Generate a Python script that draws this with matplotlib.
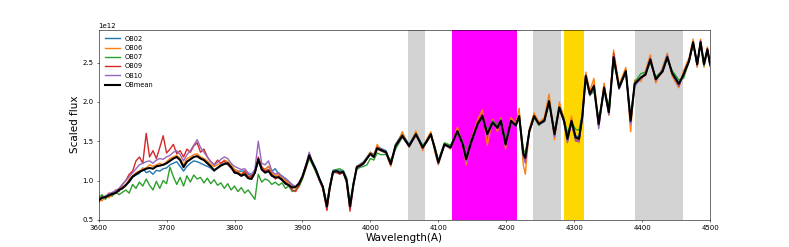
import numpy as np
import matplotlib.pyplot as plt

# wavelength grid: 5 A steps in the blue, read-off points further red
wave_blue = list(range(3600, 3900, 5))
wave_red = [3900, 3905, 3910, 3915, 3920, 3925, 3930, 3936, 3940, 3945,
            3950, 3955, 3960, 3965, 3970, 3975, 3980, 3985, 3990, 3995,
            4000, 4005, 4010, 4015, 4023, 4030, 4037, 4047, 4057, 4067,
            4077, 4083, 4089, 4095, 4100, 4109, 4118, 4128, 4136, 4141,
            4148, 4158, 4165, 4172, 4180, 4187, 4192, 4199, 4207, 4214,
            4219, 4225, 4228, 4234, 4241, 4248, 4256, 4263, 4271, 4278,
            4285, 4290, 4296, 4302, 4307, 4312, 4317, 4323, 4329, 4336,
            4344, 4351, 4358, 4366, 4376, 4383, 4389, 4398, 4405, 4412,
            4420, 4430, 4437, 4444, 4454, 4461, 4469, 4475, 4481, 4486,
            4491, 4496, 4500]

ob02 = [0.74, 0.78, 0.80, 0.81, 0.84, 0.85, 0.88, 0.91, 0.95, 0.98,
        1.04, 1.07, 1.09, 1.16, 1.10, 1.12, 1.08, 1.13, 1.12, 1.15,
        1.16, 1.20, 1.22, 1.24, 1.18, 1.12, 1.18, 1.22, 1.25, 1.24,
        1.22, 1.20, 1.18, 1.16, 1.12, 1.16, 1.20, 1.22, 1.22, 1.16,
        1.14, 1.12, 1.12, 1.12, 1.08, 1.06, 1.10, 1.24, 1.16, 1.14,
        1.18, 1.12, 1.15, 1.08, 1.06, 1.02, 0.98, 0.94, 0.92, 0.97,
        1.06, 1.20, 1.30, 1.24, 1.15, 1.03, 0.93, 0.69, 0.92, 1.13,
        1.14, 1.12, 1.13, 1.02, 0.70, 0.97, 1.18, 1.21, 1.24, 1.30,
        1.36, 1.33, 1.44, 1.41, 1.38, 1.22, 1.46, 1.60, 1.46, 1.61,
        1.44, 1.52, 1.60, 1.42, 1.25, 1.47, 1.43, 1.65, 1.48, 1.30,
        1.50, 1.73, 1.83, 1.60, 1.75, 1.68, 1.78, 1.48, 1.77, 1.71,
        1.83, 1.36, 1.31, 1.64, 1.84, 1.73, 1.78, 2.02, 1.60, 1.94,
        1.77, 1.55, 1.77, 1.57, 1.55, 1.83, 2.33, 2.11, 2.19, 1.74,
        2.15, 1.84, 2.55, 2.19, 2.38, 1.80, 2.22, 2.30, 2.36, 2.52,
        2.30, 2.38, 2.55, 2.38, 2.24, 2.34, 2.51, 2.74, 2.47, 2.73,
        2.49, 2.65, 2.47]

ob06 = [0.76, 0.74, 0.80, 0.78, 0.82, 0.84, 0.90, 0.92, 0.94, 1.02,
        1.06, 1.10, 1.12, 1.15, 1.16, 1.20, 1.18, 1.20, 1.22, 1.20,
        1.24, 1.28, 1.30, 1.32, 1.28, 1.20, 1.28, 1.30, 1.33, 1.34,
        1.30, 1.28, 1.25, 1.20, 1.18, 1.20, 1.22, 1.26, 1.24, 1.20,
        1.14, 1.12, 1.08, 1.12, 1.06, 1.04, 1.10, 1.28, 1.16, 1.14,
        1.18, 1.10, 1.06, 1.08, 1.03, 1.00, 0.96, 0.92, 0.90, 0.95,
        1.03, 1.20, 1.34, 1.20, 1.12, 1.00, 0.90, 0.63, 0.88, 1.12,
        1.13, 1.09, 1.12, 0.98, 0.64, 0.96, 1.18, 1.20, 1.23, 1.29,
        1.36, 1.31, 1.46, 1.38, 1.35, 1.18, 1.42, 1.62, 1.42, 1.63,
        1.38, 1.53, 1.62, 1.36, 1.20, 1.47, 1.40, 1.68, 1.44, 1.20,
        1.50, 1.78, 1.90, 1.45, 1.78, 1.62, 1.80, 1.40, 1.80, 1.72,
        1.92, 1.20, 1.08, 1.66, 1.86, 1.74, 1.80, 2.10, 1.52, 2.00,
        1.80, 1.50, 1.82, 1.52, 1.48, 1.88, 2.38, 2.14, 2.30, 1.68,
        2.24, 1.83, 2.66, 2.22, 2.44, 1.62, 2.28, 2.26, 2.40, 2.60,
        2.24, 2.44, 2.62, 2.33, 2.18, 2.40, 2.56, 2.80, 2.44, 2.80,
        2.44, 2.70, 2.45]

ob07 = [0.78, 0.82, 0.76, 0.83, 0.80, 0.86, 0.82, 0.85, 0.88, 0.84,
        0.95, 0.90, 0.98, 0.93, 1.02, 0.94, 0.88, 0.99, 0.90, 1.00,
        0.96, 1.17, 1.05, 0.95, 1.04, 0.93, 1.06, 0.98, 1.07, 1.02,
        1.04, 0.97, 1.03, 0.96, 1.01, 0.94, 0.97, 0.90, 0.96, 0.88,
        0.93, 0.86, 0.91, 0.84, 0.88, 0.82, 0.76, 1.08, 0.98, 1.02,
        1.00, 0.95, 0.98, 0.94, 0.97, 0.90, 0.93, 0.86, 0.88, 0.92,
        1.02, 1.15, 1.28, 1.20, 1.10, 1.00, 0.93, 0.70, 0.92, 1.12,
        1.14, 1.15, 1.12, 1.04, 0.70, 0.96, 1.14, 1.17, 1.18, 1.20,
        1.28, 1.26, 1.35, 1.33, 1.33, 1.26, 1.40, 1.55, 1.45, 1.57,
        1.45, 1.49, 1.57, 1.43, 1.25, 1.48, 1.45, 1.62, 1.50, 1.30,
        1.52, 1.72, 1.80, 1.62, 1.76, 1.70, 1.78, 1.50, 1.74, 1.72,
        1.80, 1.40, 1.34, 1.62, 1.80, 1.70, 1.76, 1.98, 1.62, 1.94,
        1.78, 1.60, 1.75, 1.65, 1.64, 1.84, 2.30, 2.08, 2.14, 1.78,
        2.16, 1.95, 2.52, 2.20, 2.40, 1.80, 2.25, 2.36, 2.38, 2.50,
        2.32, 2.40, 2.56, 2.40, 2.28, 2.30, 2.52, 2.74, 2.50, 2.74,
        2.46, 2.64, 2.50]

ob09 = [0.72, 0.80, 0.78, 0.84, 0.82, 0.88, 0.86, 0.95, 1.00, 1.08,
        1.12, 1.25, 1.30, 1.22, 1.60, 1.30, 1.38, 1.28, 1.42, 1.57,
        1.35, 1.40, 1.46, 1.34, 1.38, 1.30, 1.40, 1.36, 1.44, 1.48,
        1.36, 1.40, 1.30, 1.24, 1.20, 1.26, 1.22, 1.25, 1.20, 1.16,
        1.12, 1.10, 1.06, 1.12, 1.04, 1.06, 1.10, 1.30, 1.18, 1.12,
        1.14, 1.08, 1.02, 1.06, 1.00, 0.98, 0.94, 0.88, 0.86, 0.94,
        1.04, 1.16, 1.34, 1.22, 1.12, 1.00, 0.90, 0.62, 0.88, 1.10,
        1.10, 1.08, 1.10, 0.98, 0.61, 0.93, 1.18, 1.19, 1.22, 1.28,
        1.34, 1.30, 1.42, 1.40, 1.36, 1.20, 1.45, 1.56, 1.43, 1.58,
        1.41, 1.50, 1.58, 1.40, 1.22, 1.45, 1.42, 1.62, 1.45, 1.26,
        1.49, 1.75, 1.84, 1.58, 1.73, 1.67, 1.76, 1.45, 1.76, 1.69,
        1.82, 1.32, 1.25, 1.63, 1.82, 1.72, 1.76, 2.00, 1.57, 1.92,
        1.75, 1.50, 1.74, 1.52, 1.50, 1.80, 2.34, 2.10, 2.22, 1.70,
        2.20, 1.86, 2.62, 2.18, 2.40, 1.74, 2.22, 2.30, 2.34, 2.55,
        2.28, 2.38, 2.58, 2.36, 2.20, 2.36, 2.53, 2.76, 2.46, 2.78,
        2.48, 2.68, 2.46]

ob10 = [0.76, 0.79, 0.80, 0.83, 0.85, 0.87, 0.90, 0.95, 1.00, 1.05,
        1.10, 1.15, 1.20, 1.22, 1.24, 1.25, 1.22, 1.26, 1.28, 1.27,
        1.30, 1.32, 1.36, 1.38, 1.33, 1.25, 1.33, 1.38, 1.45, 1.52,
        1.42, 1.36, 1.30, 1.24, 1.20, 1.23, 1.27, 1.30, 1.28, 1.22,
        1.18, 1.16, 1.14, 1.15, 1.10, 1.08, 1.14, 1.50, 1.22, 1.20,
        1.25, 1.12, 1.08, 1.10, 1.05, 1.03, 0.99, 0.95, 0.92, 0.98,
        1.05, 1.20, 1.36, 1.22, 1.12, 1.00, 0.90, 0.66, 0.90, 1.10,
        1.11, 1.10, 1.10, 0.98, 0.66, 0.94, 1.16, 1.18, 1.21, 1.28,
        1.33, 1.29, 1.40, 1.38, 1.35, 1.20, 1.43, 1.56, 1.43, 1.58,
        1.41, 1.49, 1.58, 1.39, 1.21, 1.45, 1.41, 1.62, 1.45, 1.24,
        1.47, 1.70, 1.81, 1.57, 1.73, 1.66, 1.75, 1.44, 1.75, 1.68,
        1.81, 1.30, 1.22, 1.62, 1.81, 1.71, 1.75, 2.00, 1.56, 1.92,
        1.74, 1.48, 1.74, 1.50, 1.50, 1.80, 2.32, 2.08, 2.18, 1.66,
        2.18, 1.84, 2.60, 2.16, 2.38, 1.72, 2.20, 2.30, 2.36, 2.56,
        2.27, 2.42, 2.60, 2.36, 2.20, 2.36, 2.52, 2.75, 2.47, 2.77,
        2.48, 2.66, 2.47]

obmean = [0.75, 0.78, 0.79, 0.81, 0.83, 0.84, 0.88, 0.90, 0.94, 0.99,
          1.05, 1.08, 1.11, 1.13, 1.15, 1.16, 1.15, 1.18, 1.19, 1.20,
          1.22, 1.25, 1.28, 1.30, 1.26, 1.17, 1.24, 1.27, 1.30, 1.31,
          1.28, 1.26, 1.22, 1.18, 1.13, 1.16, 1.19, 1.21, 1.22, 1.17,
          1.10, 1.09, 1.06, 1.08, 1.03, 1.02, 1.10, 1.27, 1.14, 1.10,
          1.12, 1.06, 1.04, 1.04, 1.01, 0.96, 0.94, 0.91, 0.92, 0.96,
          1.05, 1.18, 1.32, 1.22, 1.13, 1.02, 0.92, 0.67, 0.90, 1.11,
          1.12, 1.10, 1.11, 1.00, 0.67, 0.95, 1.17, 1.19, 1.22, 1.28,
          1.34, 1.30, 1.41, 1.39, 1.36, 1.21, 1.44, 1.57, 1.44, 1.59,
          1.42, 1.50, 1.59, 1.40, 1.23, 1.46, 1.42, 1.63, 1.46, 1.27,
          1.48, 1.72, 1.82, 1.59, 1.74, 1.67, 1.76, 1.46, 1.76, 1.70,
          1.82, 1.34, 1.29, 1.63, 1.82, 1.72, 1.76, 2.01, 1.59, 1.93,
          1.76, 1.53, 1.76, 1.55, 1.53, 1.82, 2.33, 2.10, 2.20, 1.72,
          2.18, 1.87, 2.57, 2.18, 2.39, 1.76, 2.23, 2.31, 2.35, 2.54,
          2.29, 2.39, 2.57, 2.37, 2.23, 2.35, 2.52, 2.76, 2.48, 2.76,
          2.48, 2.67, 2.48]

labels = ['OB02', 'OB06', 'OB07', 'OB09', 'OB10']
series = [ob02, ob06, ob07, ob09, ob10]

# masked wavelength windows
grey_bands = [(4055, 4080), (4240, 4280), (4390, 4460)]
magenta_band = (4120, 4216)
gold_band = (4285, 4315)

wave = np.array(wave_blue + wave_red)

fig = plt.figure(figsize=(15.78, 4.94), dpi=50)
ax = fig.add_subplot(111)

for lo, hi in grey_bands:
    ax.axvspan(lo, hi, color='lightgray', lw=0, zorder=0)
ax.axvspan(*magenta_band, color='magenta', lw=0, zorder=0)
ax.axvspan(*gold_band, color='gold', lw=0, zorder=0)

for name, flux in zip(labels, series):
    ax.plot(wave, np.array(flux) * 1e12, lw=2, label=name)
ax.plot(wave, np.array(obmean) * 1e12, color='k', lw=3, label='OBmean')

ax.set_xlim(3600, 4500)
ax.set_ylim(0.5e12, 2.92e12)
ax.set_yticks([0.5e12, 1.0e12, 1.5e12, 2.0e12, 2.5e12])
ax.set_xlabel('Wavelength(A)', fontsize=15)
ax.set_ylabel('Scaled flux', fontsize=15)
ax.legend(loc='upper left', frameon=False, fontsize=9.5, handlelength=2.3)

plt.savefig('out.png', dpi=50)
